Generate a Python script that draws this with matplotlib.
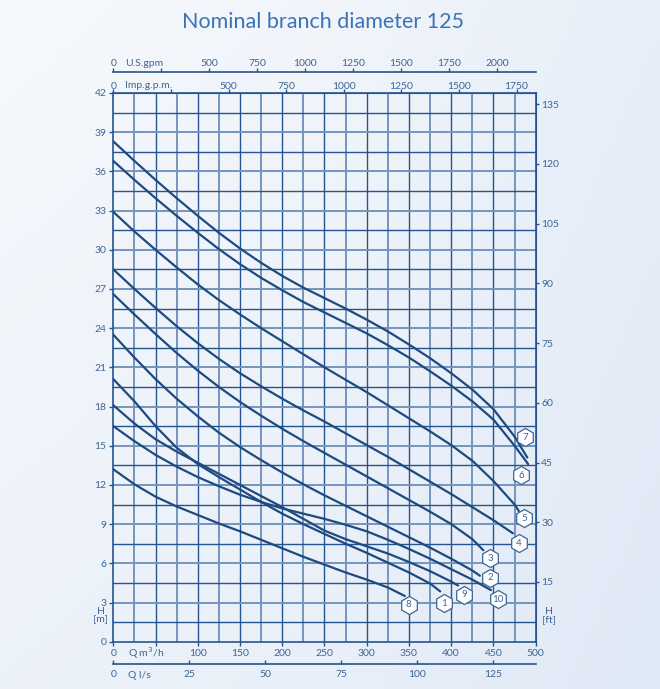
import matplotlib
matplotlib.use("Agg")
import matplotlib.pyplot as plt
import matplotlib.transforms as mtransforms
import numpy as np

plt.rcParams['font.family'] = ['Lato', 'DejaVu Sans']

LINE = '#1d4a80'
GRID_DARK = '#245590'
GRID_LIGHT = '#7595bd'
TEXT = '#3d6594'

# pump curves: flow Q [m3/h] and head H [m]
q_7 = [0, 25, 50, 75, 100, 125, 150, 175, 200, 225, 250, 275, 300, 325, 350, 375, 400, 425, 450, 475, 490]
h_7 = [38.3, 36.8, 35.35, 33.95, 32.6, 31.3, 30.1, 29.0, 28.0, 27.1, 26.3, 25.5, 24.65, 23.75, 22.75, 21.7, 20.55, 19.3, 17.8, 15.7, 14.1]
q_6 = [0, 25, 50, 75, 100, 125, 150, 175, 200, 225, 250, 275, 300, 325, 350, 375, 400, 425, 450, 475, 491]
h_6 = [36.8, 35.35, 33.95, 32.6, 31.3, 30.05, 28.9, 27.85, 26.9, 26.0, 25.2, 24.4, 23.6, 22.7, 21.75, 20.7, 19.6, 18.4, 17.0, 15.0, 13.6]
q_5 = [0, 25, 50, 75, 100, 125, 150, 175, 200, 225, 250, 275, 300, 325, 350, 375, 400, 425, 450, 475, 480]
h_5 = [32.9, 31.4, 30.0, 28.65, 27.35, 26.15, 25.05, 24.0, 23.0, 22.0, 21.0, 20.05, 19.1, 18.1, 17.1, 16.1, 15.05, 13.85, 12.3, 10.5, 10.0]
q_4 = [0, 25, 50, 75, 100, 125, 150, 175, 200, 225, 250, 275, 300, 325, 350, 375, 400, 425, 450, 473]
h_4 = [28.5, 27.0, 25.55, 24.15, 22.85, 21.65, 20.55, 19.55, 18.6, 17.7, 16.85, 15.95, 15.05, 14.15, 13.2, 12.25, 11.3, 10.3, 9.3, 8.3]
q_3 = [0, 25, 50, 75, 100, 125, 150, 175, 200, 225, 250, 275, 300, 325, 350, 375, 400, 425, 438]
h_3 = [26.6, 25.05, 23.55, 22.1, 20.75, 19.5, 18.35, 17.3, 16.3, 15.35, 14.45, 13.55, 12.65, 11.75, 10.85, 9.95, 9.0, 7.85, 7.0]
q_2 = [0, 25, 50, 75, 100, 125, 150, 175, 200, 225, 250, 275, 300, 325, 350, 375, 400, 425, 434]
h_2 = [23.5, 21.75, 20.1, 18.6, 17.25, 16.0, 14.9, 13.9, 12.95, 12.05, 11.2, 10.4, 9.6, 8.8, 8.0, 7.2, 6.35, 5.45, 5.05]
q_10 = [0, 25, 50, 75, 100, 125, 150, 175, 200, 225, 250, 275, 300, 325, 350, 375, 400, 425, 447]
h_10 = [16.5, 15.35, 14.3, 13.4, 12.6, 11.9, 11.25, 10.7, 10.2, 9.8, 9.4, 8.95, 8.45, 7.8, 7.1, 6.35, 5.55, 4.75, 3.95]
q_9 = [0, 25, 50, 75, 100, 125, 150, 175, 200, 225, 250, 275, 300, 325, 350, 375, 400, 408]
h_9 = [18.1, 16.7, 15.5, 14.55, 13.7, 12.85, 12.0, 11.15, 10.3, 9.4, 8.5, 7.85, 7.3, 6.75, 6.1, 5.4, 4.6, 4.3]
q_1 = [0, 25, 50, 75, 100, 125, 150, 175, 200, 225, 250, 275, 300, 325, 350, 375, 387]
h_1 = [20.1, 18.4, 16.5, 14.85, 13.6, 12.6, 11.65, 10.7, 9.8, 9.0, 8.25, 7.5, 6.8, 6.05, 5.3, 4.45, 3.85]
q_8 = [0, 25, 50, 75, 100, 125, 150, 175, 200, 225, 250, 275, 300, 325, 345]
h_8 = [13.2, 12.05, 11.1, 10.35, 9.7, 9.05, 8.45, 7.8, 7.15, 6.5, 5.9, 5.3, 4.75, 4.15, 3.5]

curves = {'7': (q_7, h_7), '6': (q_6, h_6), '5': (q_5, h_5), '4': (q_4, h_4),
          '3': (q_3, h_3), '2': (q_2, h_2), '10': (q_10, h_10), '9': (q_9, h_9),
          '1': (q_1, h_1), '8': (q_8, h_8)}

# badge position, pixels away from the end of each curve
badge_offset = {'7': (-2, 20), '6': (-7, -11), '5': (5, -7), '4': (6, -10), '3': (7, -8),
                '2': (10, -2), '10': (7, -9), '9': (6, -9), '1': (4, -12), '8': (4, -9)}

m3h_ticks = [0, 50, 100, 150, 200, 250, 300, 350, 400, 450, 500]
ls_ticks = [0, 25, 50, 75, 100, 125]
us_ticks = [0, 250, 500, 750, 1000, 1250, 1500, 1750, 2000]
imp_ticks = [0, 250, 500, 750, 1000, 1250, 1500, 1750]
m_ticks = list(range(0, 43, 3))
ft_ticks = [15, 30, 45, 60, 75, 90, 105, 120, 135]

US_GPM = 4.40287
IMP_GPM = 3.66615
LS = 1 / 3.6
FT = 3.28084

fig = plt.figure(figsize=(6.6, 6.89), dpi=100)

# soft blue background
bg = fig.add_axes([0, 0, 1, 1], zorder=-10)
yy, xx = np.mgrid[0:1:200j, 0:1:200j]
shade = np.clip(0.55 * xx + 0.35 * yy + 0.25 * np.abs(xx - 0.5), 0, 1)
c0 = np.array([0.975, 0.982, 0.993])
c1 = np.array([0.875, 0.912, 0.962])
img = c0[None, None, :] * (1 - shade[..., None]) + c1[None, None, :] * shade[..., None]
bg.imshow(img, extent=[0, 1, 0, 1], aspect='auto', origin='upper')
bg.axis('off')

ax = fig.add_axes([113.3 / 660, 1 - 641.7 / 689, 422.4 / 660, 548.7 / 689])
ax.patch.set_alpha(0)
ax.set_xlim(0, 500)
ax.set_ylim(0, 42)

for q in np.arange(25, 500, 25):
    odd = int(q) % 50 != 0
    ax.axvline(q, color=GRID_LIGHT if odd else GRID_DARK, lw=1.4 if odd else 1.0, zorder=1)
for h in np.arange(1.5, 42, 1.5):
    major = abs(h / 3 - round(h / 3)) < 1e-6
    ax.axhline(h, color=GRID_LIGHT if major else GRID_DARK, lw=1.4 if major else 1.0, zorder=1)

for sp in ax.spines.values():
    sp.set_color(GRID_DARK)
    sp.set_linewidth(1.2)

for name, (q, h) in curves.items():
    ax.plot(q, h, color=LINE, lw=1.6, solid_capstyle='round', solid_joinstyle='round', zorder=3)
    dx, dy = badge_offset[name]
    tr = mtransforms.offset_copy(ax.transData, fig=fig, x=dx, y=dy, units='dots')
    ax.plot(q[-1], h[-1], marker='h', ms=13, mfc='white', mec=TEXT, mew=0.9,
            transform=tr, zorder=5, clip_on=False)
    ax.text(q[-1], h[-1], name, transform=tr, ha='center', va='center',
            fontsize=7, color=TEXT, zorder=6)

ax.tick_params(colors=GRID_DARK, labelcolor=TEXT, labelsize=7.5, length=3, width=1, pad=2)
ax.set_yticks(m_ticks)
ax.set_xticks(m3h_ticks)
ax.set_xticklabels(['0' if t == 0 else ('' if t == 50 else str(t)) for t in m3h_ticks])
ax.text(17, -0.0206, 'Q m$^3$/h', transform=ax.get_xaxis_transform(), ha='left', va='center',
        fontsize=7.5, color=TEXT)
ax.text(-0.030, 2.0, 'H\n[m]', transform=ax.get_yaxis_transform(), ha='center', va='center',
        fontsize=7.5, color=TEXT, linespacing=0.85)
ax.text(1.031, 2.0, 'H\n[ft]', transform=ax.get_yaxis_transform(), ha='center', va='center',
        fontsize=7.5, color=TEXT, linespacing=0.85)

# feet on the right
ax_ft = ax.secondary_yaxis('right', functions=(lambda m: m * FT, lambda f: f / FT))
ax_ft.set_yticks(ft_ticks)
ax_ft.tick_params(colors=GRID_DARK, labelcolor=TEXT, labelsize=7.5, length=2, width=1, pad=2)
ax_ft.spines['right'].set_color(GRID_DARK)

# imperial gallons on the top edge
ax_imp = ax.secondary_xaxis('top', functions=(lambda q: q * IMP_GPM, lambda g: g / IMP_GPM))
ax_imp.set_xticks(imp_ticks)
ax_imp.set_xticklabels(['0' if t == 0 else ('' if t == 250 else str(t)) for t in imp_ticks])
ax_imp.tick_params(colors=GRID_DARK, labelcolor=TEXT, labelsize=7.5, length=3, width=1, pad=-1.5)
ax_imp.spines['top'].set_color(GRID_DARK)
ax.text(14, 1.0128, 'Imp.g.p.m.', transform=ax.get_xaxis_transform(), ha='left', va='center',
        fontsize=7.5, color=TEXT)

# US gallons above
ax_us = ax.secondary_xaxis(1.039, functions=(lambda q: q * US_GPM, lambda g: g / US_GPM))
ax_us.set_xticks(us_ticks)
ax_us.set_xticklabels(['0' if t == 0 else ('' if t == 250 else str(t)) for t in us_ticks])
ax_us.tick_params(colors=GRID_DARK, labelcolor=TEXT, labelsize=7.5, length=3, width=1, pad=-0.5)
ax_us.spines['top'].set_color(GRID_DARK)
ax_us.spines['top'].set_linewidth(1.2)
ax.text(14, 1.054, 'U.S.gpm', transform=ax.get_xaxis_transform(), ha='left', va='center',
        fontsize=7.5, color=TEXT)

# litres per second below
ax_ls = ax.secondary_xaxis(-0.041, functions=(lambda q: q * LS, lambda l: l / LS))
ax_ls.set_xticks(ls_ticks)
ax_ls.tick_params(colors=GRID_DARK, labelcolor=TEXT, labelsize=7.5, length=3, width=1,
                  pad=4, direction='in')
ax_ls.spines['bottom'].set_color(GRID_DARK)
ax_ls.spines['bottom'].set_linewidth(1.2)
ax.text(17, -0.0607, 'Q l/s', transform=ax.get_xaxis_transform(), ha='left', va='center',
        fontsize=7.5, color=TEXT)

fig.text(0.49, 0.968, 'Nominal branch diameter 125', ha='center', va='center',
         fontsize=15.5, color='#3a74b5', fontweight='normal')

fig.savefig('out.png', dpi=100)
